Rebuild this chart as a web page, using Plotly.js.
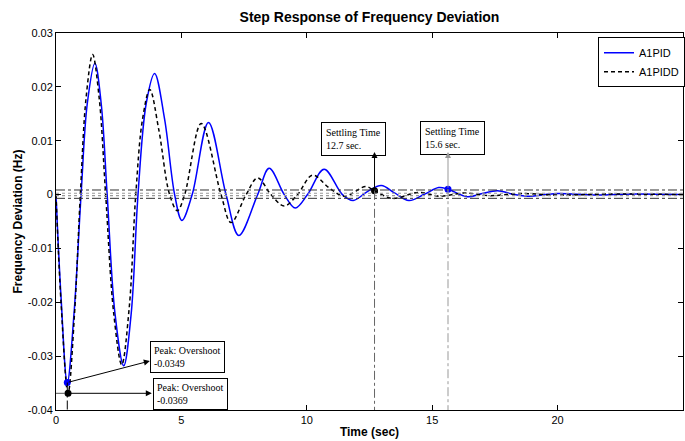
<!DOCTYPE html>
<html><head><meta charset="utf-8">
<script src="https://cdn.plot.ly/plotly-3.0.1.min.js"></script>
<style>body{margin:0;padding:0;background:#fff}#chart{width:685px;height:441px}</style>
</head><body><div id="chart"></div>
<script>
// A1PID (blue, solid)
const pidT = [0, 0.2, 0.45, 0.72, 1.0, 1.25, 1.55, 1.8, 2.04, 2.35, 2.7, 3.0, 3.27, 3.6, 3.93, 4.33, 4.73, 5.02, 5.43, 6.08, 6.78, 7.29, 8.04, 8.5, 9.1, 9.54, 10.03, 10.69, 11.42, 11.85, 12.4, 12.97, 13.5, 14.07, 14.7, 15.26, 15.63, 16.4, 17.0, 17.6, 18.2, 18.8, 20, 21.5, 23, 25];
const pidV = [0, -0.019, -0.0349, -0.022, 0, 0.017, 0.0244, 0.017, 0, -0.022, -0.0318, -0.022, 0, 0.017, 0.0225, 0.014, 0, -0.0048, 0, 0.0134, 0, -0.0076, 0, 0.0049, 0, -0.0025, 0, 0.0047, 0, -0.0011, 0.0005, 0.0017, 0.0003, -0.0011, 0.0001, 0.0013, 0.001, -0.0004, 0.0002, 0.0007, 0.0001, -0.0003, 0.0002, -0.0001, 0.0001, 0];
// A1PIDD (black, dashed)
const piddT = [0, 0.2, 0.48, 0.74, 0.97, 1.2, 1.46, 1.72, 1.98, 2.3, 2.62, 2.92, 3.18, 3.45, 3.74, 4.1, 4.53, 4.84, 5.13, 5.79, 6.58, 6.98, 7.58, 8.04, 8.57, 9.1, 9.63, 10.23, 10.9, 11.5, 12.35, 12.7, 13.4, 14.47, 15.3, 16.3, 17.3, 18.5, 20, 22, 25];
const piddV = [0, -0.02, -0.0369, -0.022, 0, 0.018, 0.026, 0.018, 0, -0.022, -0.0316, -0.021, 0, 0.014, 0.0195, 0.012, 0, -0.003, 0, 0.0132, 0, -0.0052, 0, 0.0031, 0, -0.0021, 0, 0.0036, 0.0012, -0.0003, 0.0015, 0.0007, -0.0007, 0.0004, -0.0003, 0.0003, -0.0002, 0.0002, -0.0001, 0.0001, 0];

const seriesNames = ['A1PID', 'A1PIDD'];
// marked points: peak overshoot and settling time
const peakT = [0.45, 0.48];
const peakV = [-0.0349, -0.0369];
const settleT = [15.63, 12.7];
const settleV = [0.001, 0.0007];
// settling band lines
const bandOuter = [0.00085, -0.0007];
const bandInner = [0.00025, -0.0002];

const xTicks = [0, 5, 10, 15, 20, 25];
const yTicks = [0.03, 0.02, 0.01, 0, -0.01, -0.02, -0.03, -0.04];
const yTickText = ['0.03', '0.02', '0.01', '0', '-0.01', '-0.02', '-0.03', '-0.04'];

const peakLabels = ['Peak: Overshoot<br>-0.0349', 'Peak: Overshoot<br>-0.0369'];
const peakBoxT = [3.74, 3.86];
const peakBoxV = [-0.0271, -0.0340];
const peakArrowT = [3.74, 3.82];
const peakArrowV = [-0.0309, -0.0369];
const settleLabels = ['Settling Time<br>15.6 sec.', 'Settling Time<br>12.7 sec.'];
const settleBoxT = [14.53, 10.57];
const settleBoxV = [0.0137, 0.01347];
const settleArrowV = [0.0079, 0.0079];

const yMin = -0.04, yMax = 0.03, xMin = 0, xMax = 25;

const traces = [
  {x: pidT, y: pidV, name: seriesNames[0], mode: 'lines', line: {color: '#0000ff', width: 1.5, shape: 'spline', smoothing: 1}},
  {x: piddT, y: piddV, name: seriesNames[1], mode: 'lines', line: {color: '#000000', width: 1.5, dash: '4px,3px', shape: 'spline', smoothing: 1}},
  {x: [peakT[0], settleT[0]], y: [peakV[0], settleV[0]], mode: 'markers', marker: {color: '#0000ff', size: 7}, showlegend: false, hoverinfo: 'skip'},
  {x: [peakT[1], settleT[1]], y: [peakV[1], settleV[1]], mode: 'markers', marker: {color: '#000000', size: 7}, showlegend: false, hoverinfo: 'skip'}
];

const shapes = [];
bandOuter.forEach(v => shapes.push({type: 'line', xref: 'paper', x0: 0, x1: 1, yref: 'y', y0: v, y1: v, line: {color: '#333', width: 1, dash: 'dashdot'}}));
bandInner.forEach(v => shapes.push({type: 'line', xref: 'paper', x0: 0, x1: 1, yref: 'y', y0: v, y1: v, line: {color: '#999', width: 1.2, dash: 'dot'}}));
// vertical drop lines
shapes.push({type: 'line', xref: 'x', x0: peakT[0], x1: peakT[0], yref: 'y', y0: peakV[0], y1: yMin, line: {color: '#000', width: 1, dash: 'dashdot'}});
shapes.push({type: 'line', xref: 'x', x0: xMin, x1: peakT[1], yref: 'y', y0: peakV[1], y1: peakV[1], line: {color: '#555', width: 1, dash: 'dashdot'}});
shapes.push({type: 'line', xref: 'x', x0: settleT[1], x1: settleT[1], yref: 'y', y0: settleV[1], y1: yMin, line: {color: '#666', width: 1, dash: 'dashdot'}});
shapes.push({type: 'line', xref: 'x', x0: settleT[0], x1: settleT[0], yref: 'y', y0: settleV[0], y1: yMin, line: {color: '#999', width: 1, dash: 'dashdot'}});

const serif = 'Liberation Serif, Times New Roman, serif';
const annotations = [];
for (let i = 0; i < 2; i++) {
  annotations.push({xref: 'x', yref: 'y', x: peakBoxT[i], y: peakBoxV[i], xanchor: 'left', yanchor: 'top', text: peakLabels[i], showarrow: false, align: 'left', font: {family: serif, size: 10, color: '#000'}, bgcolor: '#fff', bordercolor: '#000', borderwidth: 1, borderpad: 3});
  annotations.push({xref: 'x', yref: 'y', axref: 'x', ayref: 'y', x: peakArrowT[i], y: peakArrowV[i], ax: peakT[i], ay: peakV[i], text: '', showarrow: true, arrowhead: 2, arrowsize: 1.2, arrowwidth: 1, arrowcolor: '#000'});
  annotations.push({xref: 'x', yref: 'y', x: settleBoxT[i], y: settleBoxV[i], xanchor: 'left', yanchor: 'top', text: settleLabels[i], showarrow: false, align: 'left', font: {family: serif, size: 10, color: '#000'}, bgcolor: '#fff', bordercolor: '#000', borderwidth: 1, borderpad: 4});
  annotations.push({xref: 'x', yref: 'y', axref: 'x', ayref: 'y', x: settleT[i], y: settleArrowV[i], ax: settleT[i], ay: settleV[i], text: '', showarrow: true, arrowhead: 2, arrowsize: 1.2, arrowwidth: 1, arrowcolor: i === 0 ? '#999' : '#000'});
}

const sans = 'Liberation Sans, Arial, sans-serif';
const layout = {
  width: 685, height: 441,
  margin: {l: 56, r: 0, t: 33, b: 31, pad: 0},
  paper_bgcolor: '#fff', plot_bgcolor: '#fff',
  font: {family: sans, size: 11, color: '#000'},
  title: {text: '<b>Step Response of Frequency Deviation</b>', font: {family: sans, size: 14, color: '#000'}, x: 0.5, xref: 'paper', xanchor: 'center', y: 1 - 17 / 441, yanchor: 'middle'},
  xaxis: {range: [xMin, xMax], tickvals: xTicks, ticks: 'inside', ticklen: 5, tickcolor: '#000', showgrid: false, zeroline: false, showline: true, linecolor: '#000', linewidth: 1, mirror: 'ticks', tickfont: {size: 11},
    title: {text: '<b>Time (sec)</b>', font: {size: 12}, standoff: 2}, automargin: false},
  yaxis: {range: [yMin, yMax], tickvals: yTicks, ticktext: yTickText, ticks: 'inside', ticklen: 5, tickcolor: '#000', showgrid: false, zeroline: false, showline: true, linecolor: '#000', linewidth: 1, mirror: 'ticks', tickfont: {size: 11},
    title: {text: '<b>Frequency Deviation (Hz)</b>', font: {size: 12}, standoff: 2}, automargin: false},
  legend: {x: 0.865, y: 0.989, xanchor: 'left', yanchor: 'top', bgcolor: '#fff', bordercolor: '#000', borderwidth: 1, font: {size: 11}, itemwidth: 30, tracegroupgap: 0},
  shapes: shapes,
  annotations: annotations,
  showlegend: true
};
Plotly.newPlot('chart', traces, layout, {displayModeBar: false, staticPlot: true});
</script></body></html>
